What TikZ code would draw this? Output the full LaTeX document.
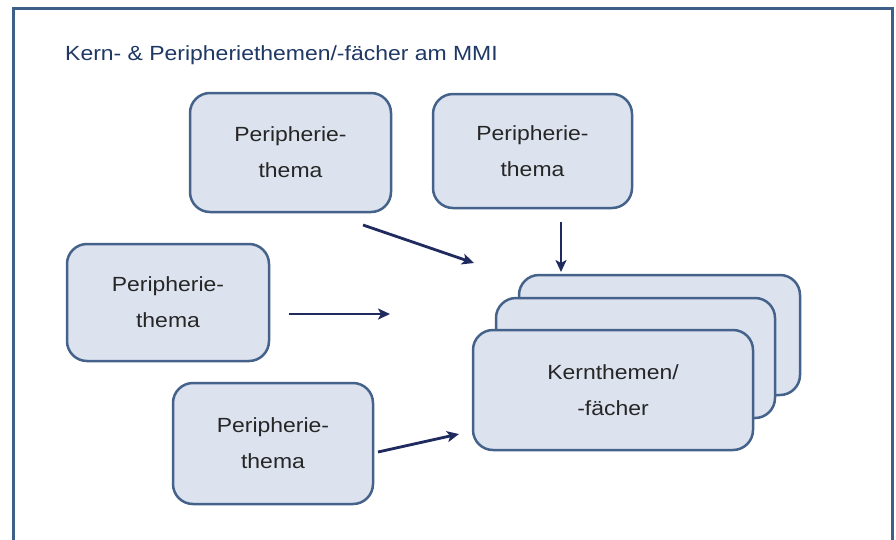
\documentclass[tikz,border=0pt]{standalone}
\usepackage{fontspec}
\setmainfont[FakeStretch=1.12]{Liberation Sans}
\usetikzlibrary{arrows.meta}
\definecolor{framecol}{HTML}{3E6088}
\definecolor{boxfill}{HTML}{DCE3EF}
\definecolor{boxline}{HTML}{44628A}
\definecolor{titlecol}{HTML}{1F3864}
\definecolor{textcol}{HTML}{262626}
\definecolor{arrowcol}{HTML}{1F2A5E}
\tikzset{
  pbox/.style={draw=boxline, fill=boxfill, line width=2.5pt, rounded corners=20pt,
    align=center, text=textcol, inner sep=0pt,
    font=\fontsize{20.5}{36}\selectfont},
  kbox/.style={pbox, minimum width=280pt, minimum height=120pt},
  link/.style={draw=arrowcol, line width=2.8pt, -{Stealth[length=12pt,width=11pt,inset=3pt]}},
}
\begin{document}
\begin{tikzpicture}[x=1pt,y=-1pt]
\useasboundingbox (0,0) rectangle (896,539);
\clip (0,0) rectangle (896,539);
\fill[white] (0,0) rectangle (896,539);
\draw[framecol, line width=3pt] (13,8) rectangle (892,580);
\node[anchor=base west, text=titlecol, inner sep=0pt, font=\fontsize{20.5}{24}\selectfont] (title) at (65,60) {Kern- \& Peripheriethemen/-fächer am MMI};

\node[pbox, minimum width=201pt, minimum height=119pt] (pA) at (290.5,152.5) {Peripherie-\\thema};
\node[pbox, minimum width=199pt, minimum height=114pt] (pB) at (532.5,151) {Peripherie-\\thema};
\node[pbox, minimum width=202pt, minimum height=117pt] (pC) at (168,302.5) {Peripherie-\\thema};
\node[pbox, minimum width=200pt, minimum height=121pt] (pD) at (273,443.5) {Peripherie-\\thema};

\node[kbox, minimum width=281pt] (k3) at (659.5,335) {};
\node[kbox, minimum width=279pt] (k2) at (635.5,358) {};
\node[kbox, minimum width=280pt] (k1) at (613,390) {Kernthemen/\\-fächer};

\coordinate (e1s) at (363,225);
\coordinate (e1e) at (474,263);
\coordinate (e2s) at (561,222);
\coordinate (e2e) at (561,272);
\coordinate (e3s) at (289,314);
\coordinate (e3e) at (390,314);
\coordinate (e4s) at (378,452);
\coordinate (e4e) at (459,434);
\draw[link] (e1s) -- (e1e);
\draw[link] (e2s) -- (e2e);
\draw[link] (e3s) -- (e3e);
\draw[link] (e4s) -- (e4e);
\end{tikzpicture}
\end{document}
